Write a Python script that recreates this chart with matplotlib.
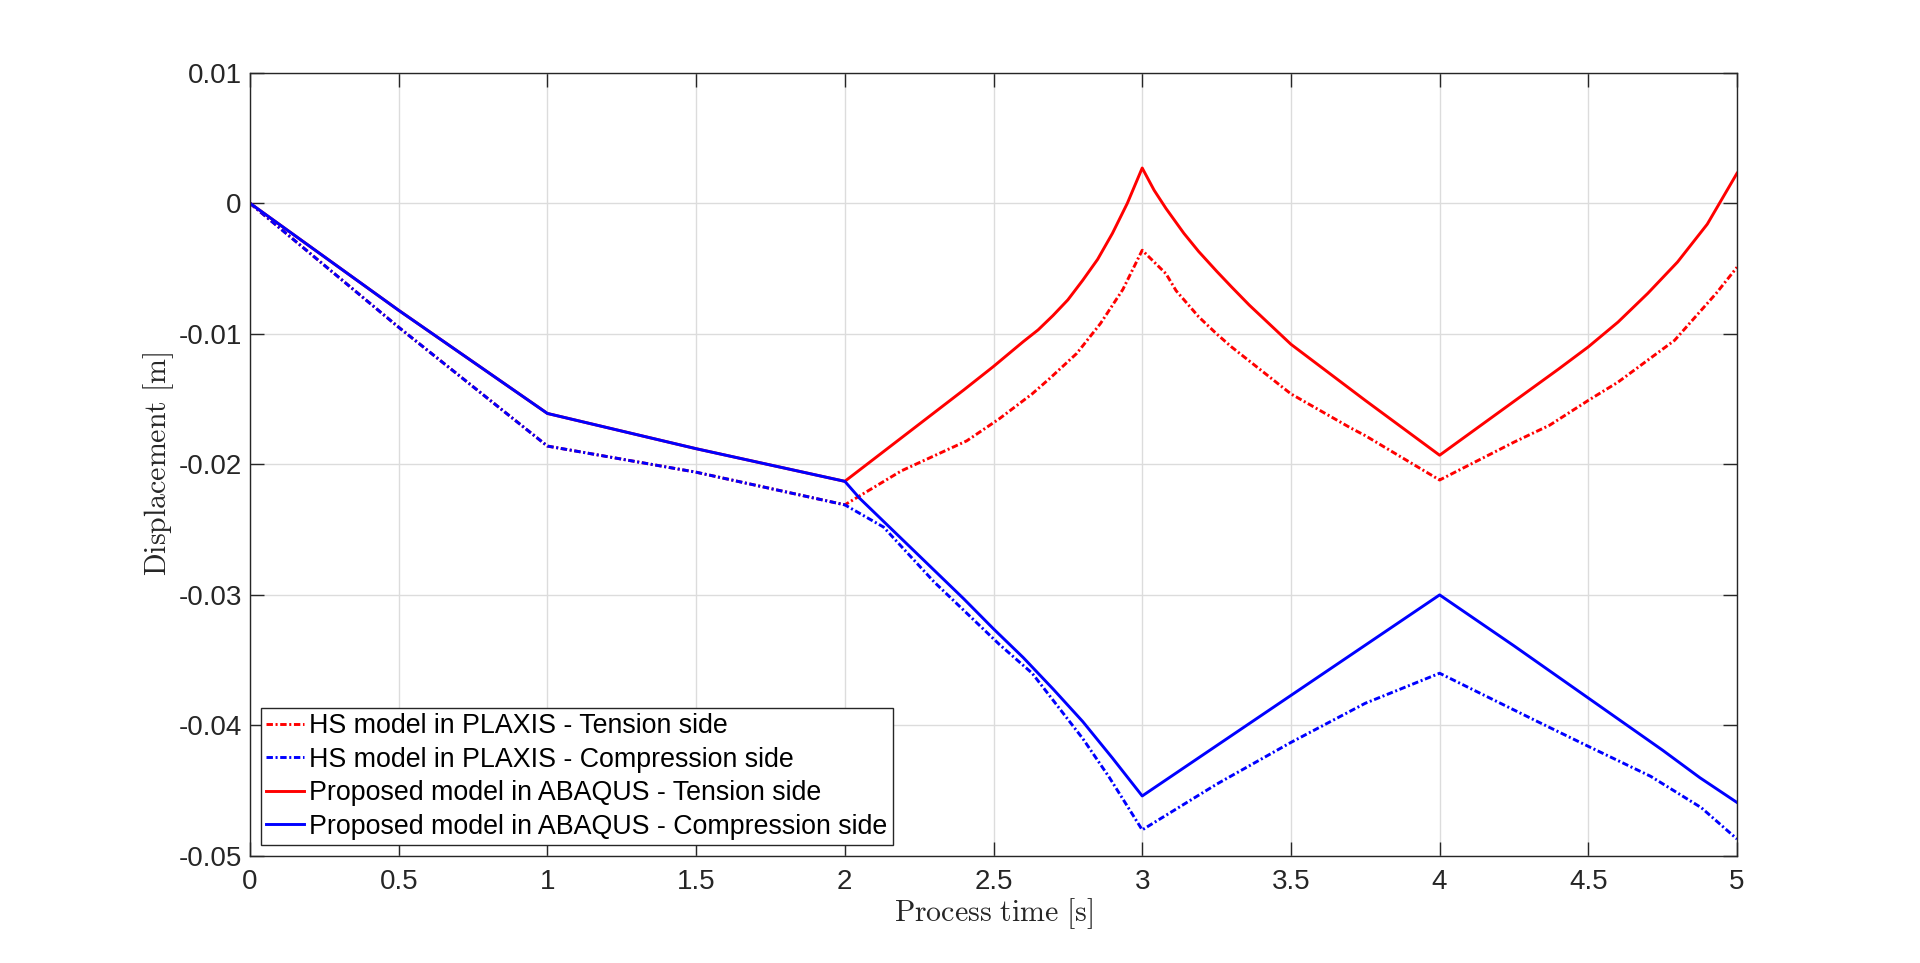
import numpy as np
import matplotlib
matplotlib.use('Agg')
import matplotlib.pyplot as plt

# HS model in PLAXIS - tension side
t_hs_ten = [0, 0.5, 1, 1.5, 2, 2.19, 2.41, 2.52, 2.63, 2.69, 2.78, 2.86, 2.935, 3,
            3.08, 3.114, 3.19, 3.25, 3.3, 3.5, 3.7, 3.75, 4, 4.25, 4.37, 4.5, 4.6,
            4.79, 4.93, 5]
u_hs_ten = [0, -0.0095, -0.0186, -0.0206, -0.0231, -0.0205, -0.0182, -0.0165, -0.0146,
            -0.0134, -0.0115, -0.0092, -0.0066, -0.0036, -0.0054, -0.0067, -0.0087,
            -0.0100, -0.0110, -0.0146, -0.0172, -0.0178, -0.0212, -0.0183, -0.0170,
            -0.0151, -0.0137, -0.0105, -0.0069, -0.0049]

# HS model in PLAXIS - compression side
t_hs_com = [0, 0.5, 1, 1.5, 2, 2.13, 2.3, 2.52, 2.63, 2.8, 2.89, 3, 3.25, 3.5, 3.75, 4,
            4.32, 4.5, 4.71, 4.88, 5]
u_hs_com = [0, -0.0095, -0.0186, -0.0206, -0.0231, -0.0248, -0.0290, -0.0338, -0.0360,
            -0.0410, -0.0440, -0.0480, -0.0445, -0.0413, -0.0383, -0.0360, -0.0396,
            -0.0416, -0.0439, -0.0463, -0.0487]

# Proposed model in ABAQUS - tension side
t_ab_ten = [0, 0.5, 1, 1.5, 2, 2.2, 2.4, 2.5, 2.6, 2.65, 2.7, 2.75, 2.8, 2.85, 2.9, 2.95,
            3, 3.04, 3.08, 3.14, 3.19, 3.25, 3.3, 3.36, 3.43, 3.5, 3.75, 4, 4.2, 4.4,
            4.5, 4.6, 4.7, 4.8, 4.9, 5]
u_ab_ten = [0, -0.0082, -0.0161, -0.0188, -0.0213, -0.0178, -0.0143, -0.0125, -0.0106,
            -0.0097, -0.0086, -0.0074, -0.0059, -0.0043, -0.0023, 0.0000, 0.0027,
            0.0010, -0.0004, -0.0023, -0.0037, -0.0052, -0.0064, -0.0078, -0.0093,
            -0.0108, -0.0151, -0.0193, -0.0160, -0.0127, -0.0110, -0.0091, -0.0069,
            -0.0045, -0.0016, 0.0023]

# Proposed model in ABAQUS - compression side
t_ab_com = [0, 0.5, 1, 1.5, 2, 2.05, 2.1, 2.2, 2.3, 2.4, 2.5, 2.6, 2.7, 2.8, 2.9, 3,
            3.5, 4, 4.25, 4.5, 4.75, 4.875, 5]
u_ab_com = [0, -0.0082, -0.0161, -0.0188, -0.0213, -0.0226, -0.0237, -0.0259, -0.0281,
            -0.0303, -0.0326, -0.0348, -0.0372, -0.0397, -0.0425, -0.0454, -0.0377,
            -0.0300, -0.0339, -0.0379, -0.0419, -0.0440, -0.0459]

labels = ['HS model in PLAXIS - Tension side',
          'HS model in PLAXIS - Compression side',
          'Proposed model in ABAQUS - Tension side',
          'Proposed model in ABAQUS - Compression side']

x_ticks = [0, 0.5, 1, 1.5, 2, 2.5, 3, 3.5, 4, 4.5, 5]
x_ticklabels = ['0', '0.5', '1', '1.5', '2', '2.5', '3', '3.5', '4', '4.5', '5']
y_ticks = [0.01, 0, -0.01, -0.02, -0.03, -0.04, -0.05]
y_ticklabels = ['0.01', '0', '-0.01', '-0.02', '-0.03', '-0.04', '-0.05']

plt.rcParams['font.family'] = ['Liberation Sans', 'DejaVu Sans']
plt.rcParams['mathtext.fontset'] = 'cm'

axc = '#262626'
dashdot = (0, (2.2, 0.9, 0.7, 0.9))

fig = plt.figure(figsize=(19.2, 9.63), dpi=100)
ax = fig.add_axes([0.1302, 0.1111, 0.7745, 0.8134])

ax.plot(t_hs_ten, u_hs_ten, color='#ff0000', lw=2.1, linestyle=dashdot, label=labels[0])
ax.plot(t_hs_com, u_hs_com, color='#0000ff', lw=2.1, linestyle=dashdot, label=labels[1])
ax.plot(t_ab_ten, u_ab_ten, color='#ff0000', lw=2.1, label=labels[2])
ax.plot(t_ab_com, u_ab_com, color='#0000ff', lw=2.1, label=labels[3])

ax.set_xlim(0, 5)
ax.set_ylim(-0.05, 0.01)
ax.set_xticks(x_ticks)
ax.set_xticklabels(x_ticklabels)
ax.set_yticks(y_ticks)
ax.set_yticklabels(y_ticklabels)

ax.grid(True, color='#dcdcdc', lw=1.0)
ax.set_axisbelow(True)
for s in ax.spines.values():
    s.set_color(axc)
    s.set_linewidth(1.0)
ax.tick_params(direction='in', length=10, width=1.0, colors=axc, labelsize=20,
               top=True, right=True)
ax.tick_params(axis='x', pad=9)
ax.tick_params(axis='y', pad=6)

ax.set_xlabel(r'$\mathrm{Process\ time\ [s]}$', fontsize=21.5, color=axc, va='baseline')
ax.set_ylabel(r'$\mathrm{Displacement\ [m]}$', fontsize=21.5, color=axc, va='center')
ax.xaxis.set_label_coords(0.5, -0.083)
ax.yaxis.set_label_coords(-0.0615, 0.5)

leg = ax.legend(loc='lower left', bbox_to_anchor=(0.0073, 0.014), borderaxespad=0,
                fontsize=19.3, handlelength=1.42, handletextpad=0.19, labelspacing=0.28,
                borderpad=0.2, fancybox=False, framealpha=1, edgecolor=axc)
leg.get_frame().set_linewidth(1.0)

fig.savefig('out.png', dpi=100)
